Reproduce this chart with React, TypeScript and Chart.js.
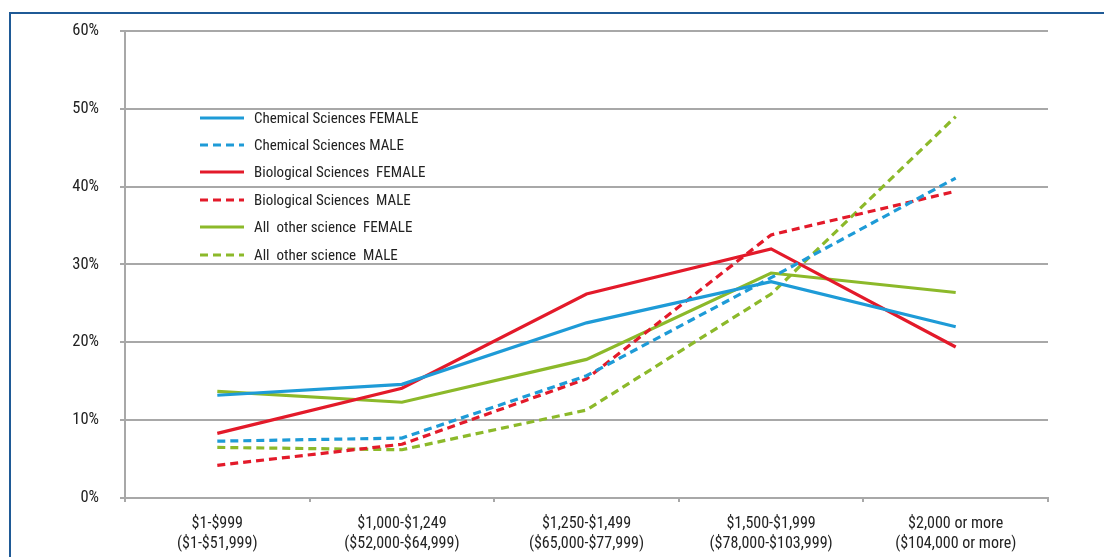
import React, { useEffect, useRef } from "react";
import { Chart, registerables } from "chart.js";

Chart.register(...registerables);

const categories: string[][] = [
  ["$1-$999", "($1-$51,999)"],
  ["$1,000-$1,249", "($52,000-$64,999)"],
  ["$1,250-$1,499", "($65,000-$77,999)"],
  ["$1,500-$1,999", "($78,000-$103,999)"],
  ["$2,000 or more", "($104,000 or more)"],
];

const chemFemale = [13.2, 14.6, 22.5, 27.8, 22.0];
const chemMale = [7.3, 7.7, 15.7, 28.3, 41.1];
const bioFemale = [8.3, 14.1, 26.2, 32.0, 19.4];
const bioMale = [4.2, 6.9, 15.3, 33.8, 39.4];
const otherFemale = [13.7, 12.3, 17.8, 28.9, 26.4];
const otherMale = [6.5, 6.2, 11.3, 26.2, 49.0];

const seriesNames = [
  "Chemical Sciences FEMALE",
  "Chemical Sciences MALE",
  "Biological Sciences  FEMALE",
  "Biological Sciences  MALE",
  "All  other science  FEMALE",
  "All  other science  MALE",
];

const yTicks = [0, 10, 20, 30, 40, 50, 60];

const BLUE = "#1e9bd7";
const RED = "#e31a2a";
const GREEN = "#8cb92a";
const GRID = "#a8a8a8";
const FONT = "'Liberation Sans Narrow', 'Arial Narrow', 'Roboto Condensed', 'DejaVu Sans Condensed', sans-serif";

const seriesData = [chemFemale, chemMale, bioFemale, bioMale, otherFemale, otherMale];
const seriesColors = [BLUE, BLUE, RED, RED, GREEN, GREEN];
const seriesDashed = [false, true, false, true, false, true];

export default function App() {
  const ref = useRef<HTMLCanvasElement | null>(null);

  useEffect(() => {
    if (!ref.current) return;
    const chart = new Chart(ref.current, {
      type: "line",
      data: {
        labels: categories,
        datasets: seriesData.map((d, i) => ({
          label: seriesNames[i],
          data: d,
          borderColor: seriesColors[i],
          backgroundColor: seriesColors[i],
          borderWidth: 3.2,
          borderDash: seriesDashed[i] ? [8, 5] : [],
          pointRadius: 0,
          tension: 0,
          fill: false,
        })),
      },
      options: {
        animation: false,
        responsive: false,
        maintainAspectRatio: false,
        layout: { padding: { left: 0, right: 56, top: 29, bottom: 0 } },
        plugins: { legend: { display: false }, tooltip: { enabled: false } },
        scales: {
          x: {
            offset: true,
            grid: {
              offset: true,
              drawOnChartArea: false,
              drawTicks: true,
              tickLength: 4,
              color: GRID,
              lineWidth: 2,
            },
            border: { color: GRID, width: 2 },
            ticks: {
              color: "#222",
              padding: 12,
              maxRotation: 0,
              autoSkip: false,
              font: { family: FONT, size: 16, lineHeight: 1.25 },
            },
            afterFit: (s: any) => {
              s.height = 59;
            },
          },
          y: {
            min: 0,
            max: 60,
            afterBuildTicks: (s: any) => {
              s.ticks = yTicks.map((v) => ({ value: v }));
            },
            grid: {
              color: GRID,
              lineWidth: 2,
              drawTicks: true,
              tickLength: 5,
            },
            border: { color: GRID, width: 2 },
            ticks: {
              color: "#222",
              padding: 21,
              font: { family: FONT, size: 16.5 },
              callback: (v: any) => `${v}%`,
            },
            afterFit: (s: any) => {
              s.width = 125;
            },
          },
        },
      },
    });
    return () => chart.destroy();
  }, []);

  return (
    <div style={{ position: "fixed", left: 0, top: 0, width: 1104, height: 557, background: "#fff", overflow: "hidden" }}>
      <div
        style={{
          position: "absolute",
          left: 9,
          top: 12,
          width: 1104,
          height: 560,
          borderTop: "2px solid #1f5a96",
          borderLeft: "2px solid #1f5a96",
        }}
      />
      <canvas ref={ref} width={1104} height={557} style={{ position: "absolute", left: 0, top: 0 }} />
      <div style={{ position: "absolute", left: 200, top: 104, fontFamily: FONT, fontSize: 15, color: "#222" }}>
        {seriesNames.map((n, i) => (
          <div key={n} style={{ display: "flex", alignItems: "center", height: 27.4 }}>
            <svg width={54} height={6} style={{ display: "block" }}>
              <line
                x1={0}
                y1={3}
                x2={44}
                y2={3}
                stroke={seriesColors[i]}
                strokeWidth={3.2}
                strokeDasharray={seriesDashed[i] ? "8 5" : undefined}
              />
            </svg>
            <span style={{ whiteSpace: "pre" }}>{n}</span>
          </div>
        ))}
      </div>
    </div>
  );
}
